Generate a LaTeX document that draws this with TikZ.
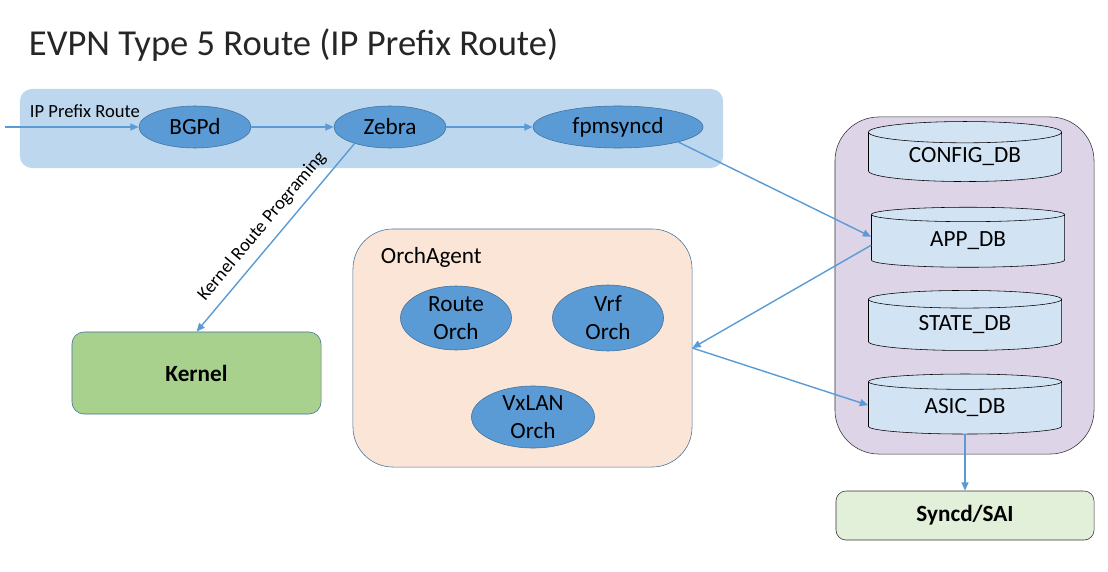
\documentclass[tikz,border=0pt]{standalone}
\usepackage{fontspec}
\setmainfont{Carlito}
\usetikzlibrary{shapes.geometric,arrows.meta}
\definecolor{bandblue}{HTML}{BDD7EE}
\definecolor{procblue}{HTML}{5B9BD5}
\definecolor{edgeblue}{HTML}{41719C}
\definecolor{kernelgreen}{HTML}{A9D18E}
\definecolor{orchpeach}{HTML}{FBE5D6}
\definecolor{dblilac}{HTML}{DDD4E8}
\definecolor{dbfill}{HTML}{D2E3F3}
\definecolor{saigreen}{HTML}{E2F0D9}
\tikzset{
  proc/.style={ellipse,draw=edgeblue,fill=procblue,inner sep=0pt,font=\fontsize{16.5}{20}\selectfont,align=center},
  db/.style={cylinder,shape border rotate=90,aspect=0.19,draw=black,fill=dbfill,inner sep=0pt,
    minimum width=4.825cm,minimum height=1.5cm,font=\fontsize{16.5}{20}\selectfont},
  flow/.style={draw=procblue,line width=1pt,-{Triangle[length=6pt,width=5pt]}},
  small/.style={font=\fontsize{13.2}{16}\selectfont},
}
\begin{document}
\begin{tikzpicture}[x=0.025cm,y=-0.025cm]
  \useasboundingbox (0,0) rectangle (1108,571);
  \node[anchor=west,text=black!85,font=\fontsize{26}{31}\selectfont] (title) at (24,45) {EVPN Type 5 Route (IP Prefix Route)};
  \node[fill=bandblue,rounded corners=0.3cm,minimum width=17.575cm,minimum height=1.975cm] (band) at (371.5,128.5) {};
  \node[anchor=west,small] (iplabel) at (25,111) {IP Prefix Route};
  \node[proc,minimum width=2.8cm,minimum height=1.05cm] (bgpd) at (195,127) {BGPd};
  \node[proc,minimum width=2.8cm,minimum height=1.05cm] (zebra) at (390,127) {Zebra};
  \node[proc,minimum width=4.25cm,minimum height=1.05cm] (fpm) at (618,127) {fpmsyncd};
  \coordinate (ipin) at (5,127);
  \node[draw=edgeblue,fill=kernelgreen,rounded corners=0.3cm,minimum width=6.225cm,minimum height=2.05cm,
    font=\fontsize{16.5}{20}\selectfont\bfseries] (kernel) at (196.5,373) {Kernel};
  \node[draw=edgeblue,fill=orchpeach,rounded corners=1cm,minimum width=8.475cm,minimum height=5.95cm] (orch) at (522.5,348) {};
  \node[anchor=west,font=\fontsize{16.5}{20}\selectfont] (orchlabel) at (376,257) {OrchAgent};
  \node[proc,minimum width=2.775cm,minimum height=1.6cm] (route) at (456,318) {Route\\Orch};
  \node[proc,minimum width=2.775cm,minimum height=1.65cm] (vrf) at (608,318) {Vrf\\Orch};
  \node[proc,minimum width=3.075cm,minimum height=1.55cm] (vxlan) at (533,417) {VxLAN\\Orch};
  \node[draw=black!80,fill=dblilac,rounded corners=1.1cm,minimum width=6.475cm,minimum height=8.425cm] (dbbox) at (964.5,285.5) {};
  \node[db] (config) at (965,157) {CONFIG\_DB};
  \node[db] (app) at (968,241) {APP\_DB};
  \node[db] (state) at (965,325) {STATE\_DB};
  \node[db] (asic) at (965,408) {ASIC\_DB};
  \node[draw=black!80,fill=saigreen,rounded corners=0.25cm,minimum width=6.45cm,minimum height=1.225cm,
    font=\fontsize{16.5}{20}\selectfont\bfseries] (syncd) at (965,515.5) {Syncd/SAI};
  \draw[flow] (ipin) -- (bgpd);
  \draw[flow] (bgpd) -- (zebra);
  \draw[flow] (zebra) -- (fpm);
  \draw[flow] (zebra.205) -- node[sloped,above=3pt,small] {Kernel Route Programing} (kernel.north);
  \draw[flow] (fpm.346) -- ([yshift=3pt]app.west);
  \draw[flow] ([yshift=-3pt]app.west) -- (orch.east);
  \draw[flow] (orch.east) -- ([yshift=2pt]asic.west);
  \draw[flow] (asic.south) -- (syncd.north);
\end{tikzpicture}
\end{document}
